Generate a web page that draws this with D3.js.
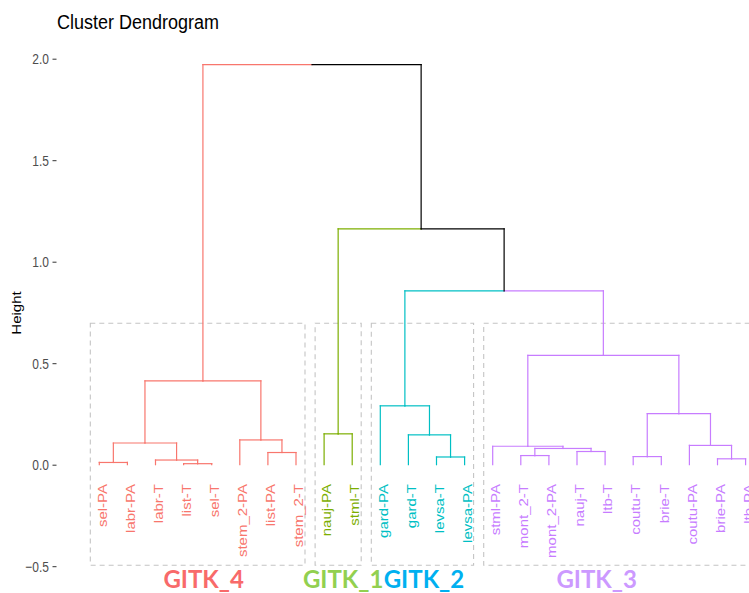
<!DOCTYPE html>
<html>
<head>
<meta charset="utf-8">
<script src="https://cdn.jsdelivr.net/npm/d3@7/dist/d3.min.js"></script>
<style>
  html, body { margin: 0; padding: 0; background: #ffffff; }
  svg { display: block; }
</style>
</head>
<body>
<svg id="chart" width="749" height="593"></svg>
<script>
// ---------------- data ----------------
const leafLabels = ["sel-PA","labr-PA","labr-T","list-T","sel-T","stem_2-PA","list-PA","stem_2-T",
  "nauj-PA","stml-T","gard-PA","gard-T","levsa-T","levsa-PA",
  "stml-PA","mont_2-T","mont_2-PA","nauj-T","ltb-T","coutu-T","brie-T","coutu-PA","brie-PA","ltb-PA"];
const leafCluster = ["GITK_4","GITK_4","GITK_4","GITK_4","GITK_4","GITK_4","GITK_4","GITK_4",
  "GITK_1","GITK_1","GITK_2","GITK_2","GITK_2","GITK_2",
  "GITK_3","GITK_3","GITK_3","GITK_3","GITK_3","GITK_3","GITK_3","GITK_3","GITK_3","GITK_3"];
// hclust-style merge table: negative = leaf (1-based, display order), positive = earlier merge step
const mergeLeft   = [-4, -1, -3, -23, -13, -20, -16, -7, -18,  7, -15, -22,  2, -6, -12, -9,  6, -11, 13, 11, 18, 16, 19];
const mergeRight  = [-5, -2,  1, -24, -14, -21, -17, -8, -19,  9,  10,   4,  3,  8,   5, -10, 12, 15, 14, 17, 20, 21, 22];
const mergeHeight = [0.005, 0.011, 0.023, 0.029, 0.038, 0.040, 0.045, 0.060, 0.065, 0.080, 0.091, 0.095,
  0.107, 0.122, 0.147, 0.152, 0.252, 0.290, 0.413, 0.539, 0.856, 1.162, 1.971];
const clusterNames  = ["GITK_4","GITK_1","GITK_2","GITK_3"];
const clusterColors = ["#F8766D","#7CAE00","#00BFC4","#C77CFF"];
const groupLabelColors = ["#F86A6A","#92D050","#00B0F0","#CC99FF"];
const yTicks = [-0.5, 0, 0.5, 1.0, 1.5, 2.0];
const rectTop = 0.697, rectBottom = -0.495;

// ---------------- scales ----------------
const svg = d3.select("#chart");
svg.append("rect").attr("width",749).attr("height",593).attr("fill","#fff");

const x = d3.scaleLinear().domain([1, 24]).range([99.3, 745.6]);
const y = d3.scaleLinear().domain([-0.5, 2.0]).range([566.2, 58.7]);
const colorOf = d3.scaleOrdinal().domain(clusterNames).range(clusterColors);

// ---------------- tree ----------------
const nodes = mergeHeight.map(() => ({}));
function ref(r) {
  if (r < 0) {
    const i = -r;
    return { pos: i, h: 0, leaves: [i] };
  }
  return nodes[r - 1];
}
mergeHeight.forEach((h, k) => {
  const L = ref(mergeLeft[k]), R = ref(mergeRight[k]);
  nodes[k].pos = (L.pos + R.pos) / 2;
  nodes[k].h = h;
  nodes[k].leaves = L.leaves.concat(R.leaves);
  nodes[k].left = L; nodes[k].right = R;
});
function colorOfNode(n) {
  const cl = new Set(n.leaves.map(i => leafCluster[i - 1]));
  return cl.size === 1 ? colorOf([...cl][0]) : "#000000";
}
const segs = [];
nodes.forEach(n => {
  [n.left, n.right].forEach(c => {
    const col = colorOfNode(c);
    segs.push({x1: n.pos, y1: n.h, x2: c.pos, y2: n.h, col});
    segs.push({x1: c.pos, y1: n.h, x2: c.pos, y2: c.h, col});
  });
});

// ---------------- cluster rectangles ----------------
clusterNames.forEach(cn => {
  const idx = leafCluster.map((c, i) => c === cn ? i + 1 : null).filter(v => v !== null);
  const x0 = x(d3.min(idx) - 0.32), x1 = x(d3.max(idx) + 0.32);
  svg.append("rect")
    .attr("x", x0).attr("y", y(rectTop))
    .attr("width", x1 - x0).attr("height", y(rectBottom) - y(rectTop))
    .attr("fill", "none").attr("stroke", "#C4C4C4").attr("stroke-width", 1.1)
    .attr("stroke-dasharray", "5,4");
});

// ---------------- dendrogram segments ----------------
svg.append("g").selectAll("line").data(segs).join("line")
  .attr("x1", d => x(d.x1)).attr("x2", d => x(d.x2))
  .attr("y1", d => y(d.y1)).attr("y2", d => y(d.y2))
  .attr("stroke", d => d.col).attr("stroke-width", 1.2)
  .attr("stroke-linecap", "square");

// ---------------- leaf labels ----------------
svg.append("g").selectAll("text").data(leafLabels).join("text")
  .attr("transform", (d, i) => `translate(${x(i + 1) + 3},484) rotate(-90) scale(1.25,1)`)
  .attr("text-anchor", "end").attr("dy", "0.35em")
  .attr("font-family", "Liberation Sans, Arial, sans-serif").attr("font-size", 12)
  .attr("fill", (d, i) => colorOf(leafCluster[i]))
  .text(d => d);

// ---------------- y axis ----------------
const axis = d3.axisLeft(y).tickValues(yTicks).tickFormat(d3.format(".1f")).tickSize(4).tickPadding(3.5);
const ag = svg.append("g").attr("transform", "translate(56.5,0)").call(axis);
ag.select(".domain").remove();
ag.selectAll(".tick line").attr("stroke", "#333333").attr("stroke-width", 1);
ag.selectAll(".tick text")
  .attr("font-family", "Liberation Sans, Arial, sans-serif").attr("font-size", 12)
  .attr("fill", "#4D4D4D").attr("transform", "scale(1,1.25)");

svg.append("text")
  .attr("transform", "translate(21,313) rotate(-90) scale(1.25,1)")
  .attr("text-anchor", "middle")
  .attr("font-family", "Liberation Sans, Arial, sans-serif").attr("font-size", 12)
  .attr("fill", "#000").text("Height");

// ---------------- title ----------------
svg.append("text")
  .attr("transform", "translate(57,29) scale(1,1.1)")
  .attr("font-family", "Liberation Sans, Arial, sans-serif").attr("font-size", 18)
  .attr("fill", "#000").text("Cluster Dendrogram");

// ---------------- group labels ----------------
const labelNudge = [6, 5, 1.5, -22.5];
clusterNames.forEach((cn, k) => {
  const idx = leafCluster.map((c, i) => c === cn ? i + 1 : null).filter(v => v !== null);
  svg.append("text")
    .attr("x", x(d3.mean(idx)) + labelNudge[k]).attr("y", 588)
    .attr("text-anchor", "middle")
    .attr("font-family", "Lato, Open Sans, sans-serif").attr("font-weight", 700).attr("font-size", 24)
    .attr("fill", groupLabelColors[k]).text(cn);
});
</script>
</body>
</html>
